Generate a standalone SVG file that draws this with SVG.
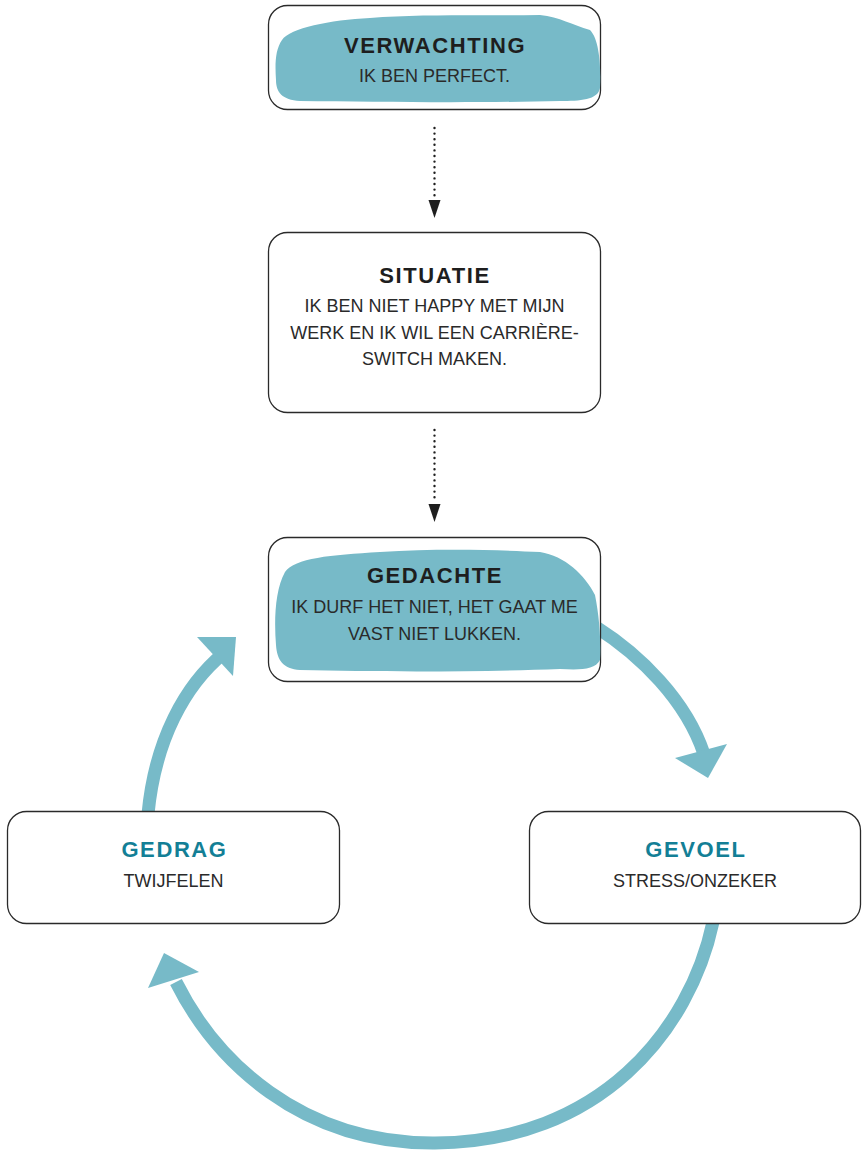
<svg xmlns="http://www.w3.org/2000/svg" width="862" height="1153" viewBox="0 0 862 1153">
<defs>
<style>
.box{fill:#fff;stroke:#2a2a2a;stroke-width:1.3}
.blob{fill:#77bac8}
.title{font-family:"Liberation Sans",Arial,sans-serif;font-weight:bold;font-size:22px;letter-spacing:1.6px;fill:#1e1e1e;text-anchor:middle}
.teal{fill:#137f96}
.body{font-family:"Liberation Sans",Arial,sans-serif;font-size:18px;fill:#2a2a2a;text-anchor:middle}
.dots{stroke:#1e1e1e;stroke-width:2.4;stroke-linecap:round;stroke-dasharray:0 5.6;fill:none}
.head{fill:#1e1e1e}
.arc{fill:none;stroke:#77bac8;stroke-width:13}
.ahead{fill:#77bac8}
</style>
</defs>
<rect width="862" height="1153" fill="#fff"/>
<g id="connectors">
<line class="dots" x1="434.5" y1="128" x2="434.5" y2="198"/>
<polygon class="head" points="428.5,200 440.5,200 434.5,218"/>
<line class="dots" x1="434.5" y1="430" x2="434.5" y2="502"/>
<polygon class="head" points="428.5,504 440.5,504 434.5,522"/>
<path class="arc" d="M 596 627 C 640 655 686 700 704 754"/>
<polygon class="ahead" points="675,758 727,744 708,778"/>
<path class="arc" d="M 713 922 C 690 1030 600 1142 435 1143 C 300 1144 215 1060 176 982"/>
<polygon class="ahead" points="164,953 199,972 148,988"/>
<path class="arc" d="M 148 814 C 155 740 185 685 224 653"/>
<polygon class="ahead" points="197,637 236,637 233,676"/>
</g>
<g id="verwachting">
<rect class="box" x="268.5" y="5.5" width="332" height="104" rx="19"/>
<path class="blob" d="M 282 40 C 290 28 330 20 370 18 C 420 14 480 16 540 15 C 560 17 572 25 590 30 C 600 40 601 70 600 88 C 598 100 580 101 560 101 C 480 103 380 102 300 101 C 282 100 276 92 276 80 C 275 65 275 50 282 40 Z"/>
<text class="title" x="435" y="53">VERWACHTING</text>
<text class="body" x="434.5" y="82">IK BEN PERFECT.</text>
</g>
<g id="situatie">
<rect class="box" x="268.5" y="232.5" width="332" height="180" rx="19"/>
<text class="title" x="435" y="283">SITUATIE</text>
<text class="body" x="434.5" y="312">IK BEN NIET HAPPY MET MIJN</text>
<text class="body" x="434.5" y="338.5">WERK EN IK WIL EEN CARRIÈRE-</text>
<text class="body" x="434.5" y="365">SWITCH MAKEN.</text>
</g>
<g id="gedachte">
<rect class="box" x="268.5" y="537.5" width="332" height="144" rx="19"/>
<path class="blob" d="M 285 572 C 295 558 330 555 380 552 C 440 548 500 550 540 552 C 565 556 585 575 595 595 C 600 620 601 645 600 660 C 595 670 580 670 560 669 C 480 672 380 672 300 670 C 283 669 277 660 276 645 C 274 620 275 590 285 572 Z"/>
<text class="title" x="435" y="583">GEDACHTE</text>
<text class="body" x="434.5" y="613">IK DURF HET NIET, HET GAAT ME</text>
<text class="body" x="434.5" y="640">VAST NIET LUKKEN.</text>
</g>
<g id="gedrag">
<rect class="box" x="7.5" y="811.5" width="332" height="112" rx="19"/>
<text class="title teal" x="174.5" y="857">GEDRAG</text>
<text class="body" x="173.5" y="887">TWIJFELEN</text>
</g>
<g id="gevoel">
<rect class="box" x="529.5" y="811.5" width="331" height="112" rx="19"/>
<text class="title teal" x="696" y="857">GEVOEL</text>
<text class="body" x="695" y="887">STRESS/ONZEKER</text>
</g>
</svg>
